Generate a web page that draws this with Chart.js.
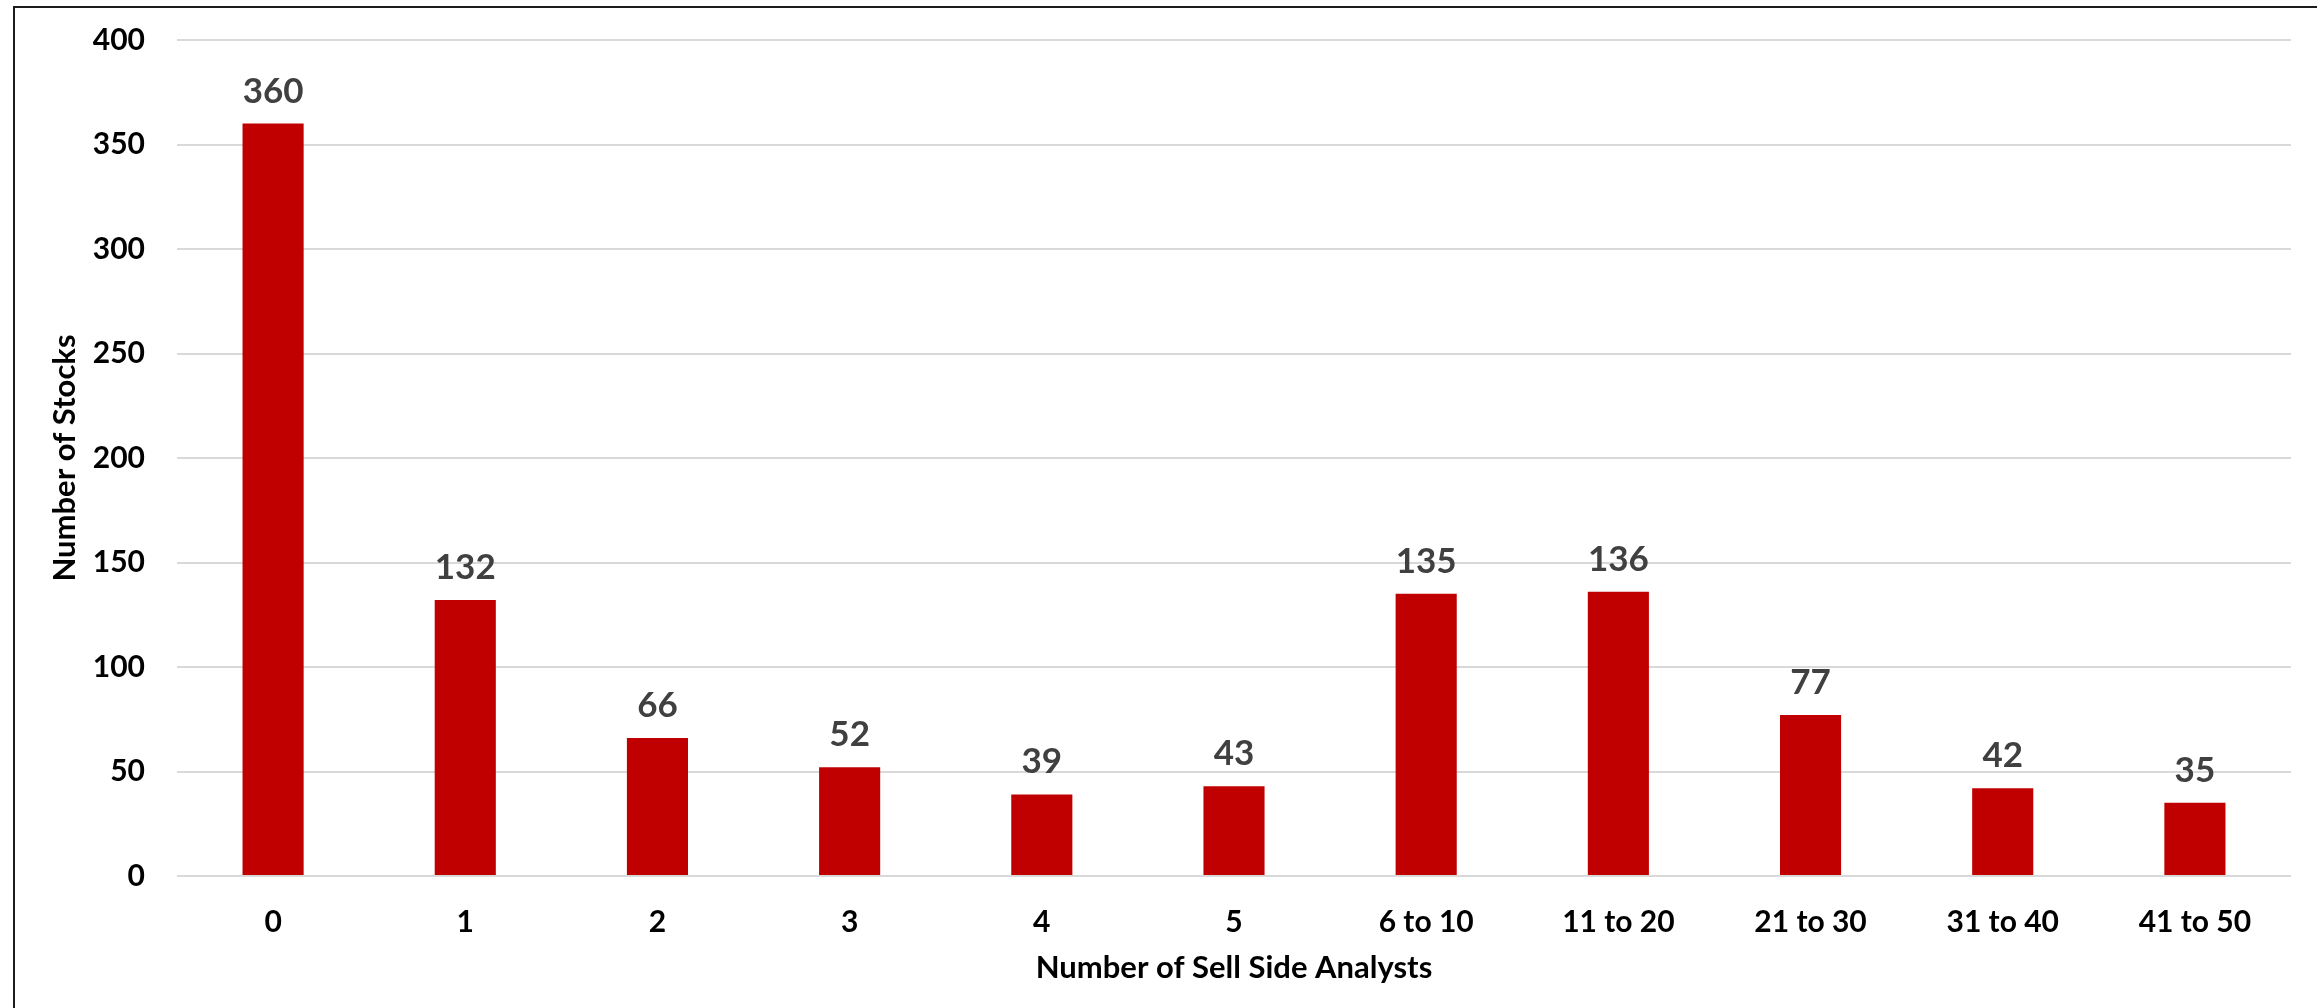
<!DOCTYPE html>
<html>
<head>
<meta charset="utf-8">
<script src="https://cdn.jsdelivr.net/npm/chart.js@4.4.0/dist/chart.umd.min.js"></script>
<style>
    html, body { margin: 0; padding: 0; background: #fff; }
    #wrap { position: relative; width: 2317px; height: 1008px; }
    #frame {
        position: absolute; left: 13px; top: 6px; right: 0; bottom: 0;
        border-left: 2px solid #1c1c1c; border-top: 2px solid #1c1c1c;
    }
    canvas { position: absolute; left: 0; top: 0; }
</style>
</head>
<body>
<div id="wrap">
    <div id="frame"></div>
    <canvas id="analystChart" width="2317" height="1008"></canvas>
</div>
<script>
// Chart data
const categories = ['0', '1', '2', '3', '4', '5', '6 to 10', '11 to 20', '21 to 30', '31 to 40', '41 to 50'];
const stockCounts = [360, 132, 66, 52, 39, 43, 135, 136, 77, 42, 35];
const yTicks = [0, 50, 100, 150, 200, 250, 300, 350, 400];

const xTitle = 'Number of Sell Side Analysts';
const yTitle = 'Number of Stocks';

const FONT = 'Lato, "Open Sans", sans-serif';

// Value labels above each bar
const valueLabels = {
    id: 'valueLabels',
    afterDatasetsDraw(chart) {
        const { ctx } = chart;
        const meta = chart.getDatasetMeta(0);
        ctx.save();
        ctx.font = `bold 35px ${FONT}`;
        ctx.fillStyle = '#404040';
        ctx.textAlign = 'center';
        ctx.textBaseline = 'alphabetic';
        meta.data.forEach((bar, i) => {
            ctx.fillText(stockCounts[i], bar.x, bar.y - 21);
        });
        ctx.restore();
    }
};

function initChart() {
    const ctx = document.getElementById('analystChart');
    if (!ctx) return;

    new Chart(ctx.getContext('2d'), {
        type: 'bar',
        data: {
            labels: categories,
            datasets: [{
                data: stockCounts,
                backgroundColor: '#c00000',
                borderWidth: 0,
                categoryPercentage: 1,
                barPercentage: 0.318
            }]
        },
        options: {
            responsive: false,
            animation: false,
            layout: {
                padding: { top: 40, right: 26, left: 0, bottom: 0 }
            },
            plugins: {
                legend: { display: false },
                tooltip: { enabled: false }
            },
            scales: {
                x: {
                    grid: { display: false },
                    border: { display: false },
                    ticks: {
                        color: '#000',
                        font: { family: FONT, size: 30, weight: 'bold' },
                        padding: 20,
                        maxRotation: 0
                    },
                    title: {
                        display: true,
                        text: xTitle,
                        color: '#000',
                        font: { family: FONT, size: 31, weight: 'bold' },
                        padding: { top: 0, bottom: 21 }
                    },
                    afterFit: scale => { scale.height = 132; }
                },
                y: {
                    min: 0,
                    max: 400,
                    afterBuildTicks: scale => {
                        scale.ticks = yTicks.map(v => ({ value: v }));
                    },
                    grid: {
                        color: '#d9d9d9',
                        lineWidth: 2,
                        tickLength: 28,
                        tickColor: 'rgba(0,0,0,0)'
                    },
                    border: { display: false },
                    ticks: {
                        color: '#000',
                        font: { family: FONT, size: 30, weight: 'bold' },
                        padding: 4
                    },
                    title: {
                        display: true,
                        text: yTitle,
                        color: '#000',
                        font: { family: FONT, size: 31, weight: 'bold' },
                        padding: { top: 46, bottom: 0 }
                    },
                    afterFit: scale => { scale.width = 177; }
                }
            }
        },
        plugins: [valueLabels]
    });
}

document.addEventListener('DOMContentLoaded', initChart);
</script>
</body>
</html>
